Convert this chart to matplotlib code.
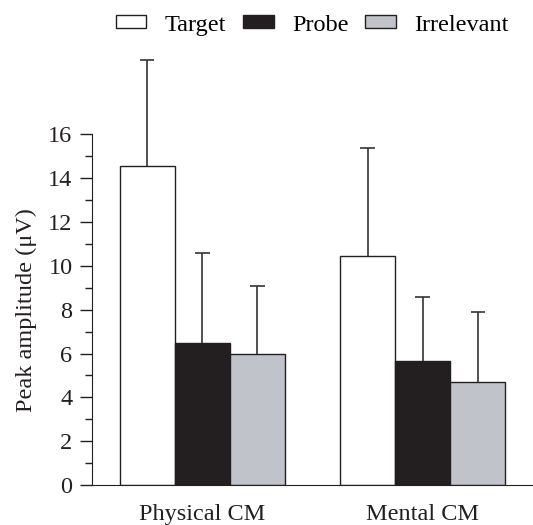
import matplotlib
matplotlib.use("Agg")
import matplotlib.pyplot as plt
import numpy as np

groups = ["Physical CM", "Mental CM"]
series = ["Target", "Probe", "Irrelevant"]
means = {
    "Target": [14.55, 10.45],
    "Probe": [6.47, 5.65],
    "Irrelevant": [5.97, 4.7],
}
errors = {
    "Target": [4.85, 4.95],
    "Probe": [4.1, 2.95],
    "Irrelevant": [3.12, 3.2],
}
colors = {"Target": "#ffffff", "Probe": "#231f20", "Irrelevant": "#c0c3ca"}

plt.rcParams['font.family'] = ['Liberation Serif', 'DejaVu Serif']
FS = 17.5

fig = plt.figure(figsize=(5.33, 5.25), dpi=100)
ax = fig.add_axes([0.1726, 0.0762, 0.8274, 0.818])

x = np.arange(len(groups))
w = 0.25
cap = 0.032
for i, s in enumerate(series):
    pos = x + (i - 1) * w
    m = np.array(means[s])
    e = np.array(errors[s])
    ax.bar(pos, m, width=w, color=colors[s], edgecolor="#231f20",
           linewidth=1.0, label=s, zorder=2)
    ax.vlines(pos, m, m + e, color="#333333", linewidth=1.2, zorder=3, clip_on=False)
    ax.hlines(m + e, pos - cap, pos + cap, color="#333333", linewidth=1.2, zorder=3, clip_on=False)

ax.set_xlim(-0.502, 1.502)
ax.set_ylim(0, 19.6)
ax.spines['top'].set_visible(False)
ax.spines['right'].set_visible(False)
ax.spines['left'].set_bounds(0, 16)
ax.spines['left'].set_color("#231f20")
ax.spines['bottom'].set_color("#231f20")
ax.set_yticks(np.arange(0, 17, 2))
ax.set_yticks(np.arange(1, 17, 2), minor=True)
ax.tick_params(axis='y', which='major', length=9, width=1, labelsize=FS, colors="#231f20", pad=5)
ax.tick_params(axis='y', which='minor', length=5, width=1, colors="#231f20")
ax.set_xticks(x)
ax.set_xticklabels(groups, fontsize=FS, color="#231f20")
ax.tick_params(axis='x', length=0, pad=14)
ax.set_ylabel("Peak amplitude (μV)", fontsize=FS, color="#231f20")
ax.yaxis.set_label_coords(-0.125, 8 / 19.6)

handles, labels = ax.get_legend_handles_labels()
fig.legend(handles, labels, ncol=3, loc="upper right", bbox_to_anchor=(0.995, 1.014),
           frameon=False, fontsize=FS, handlelength=1.25, handleheight=0.45,
           handletextpad=0.75, columnspacing=0.7)

fig.savefig("out.png", dpi=100)
